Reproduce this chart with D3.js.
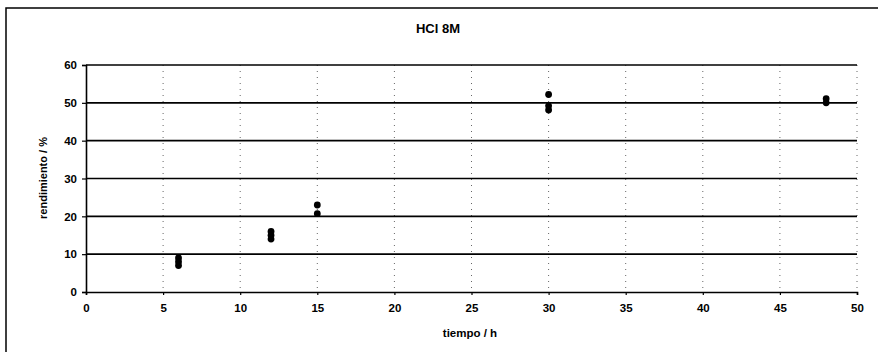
<!DOCTYPE html>
<html><head><meta charset="utf-8">
<script src="https://cdn.jsdelivr.net/npm/d3@7"></script>
<style>body{margin:0;background:#fff}svg{display:block}text{font-family:"Liberation Sans",Arial,sans-serif;font-weight:bold}</style>
</head><body>
<script>
const title = "HCl 8M";
const xLabel = "tiempo / h";
const yLabel = "rendimiento / %";
const timeH = [6, 6, 6, 12, 12, 12, 15, 15, 30, 30, 30, 48, 48];
const yieldPct = [9, 8, 7, 16, 15, 14, 23, 20.7, 52.2, 49.2, 48.1, 51.1, 50];
const xTicks = [0, 5, 10, 15, 20, 25, 30, 35, 40, 45, 50];
const yTicks = [0, 10, 20, 30, 40, 50, 60];

const W = 878, H = 352;
const svg = d3.select("body").append("svg").attr("width", W).attr("height", H);
const x = d3.scaleLinear().domain([0, 50]).range([86, 857]);
const y = d3.scaleLinear().domain([0, 60]).range([292, 65]);

// outer frame
svg.append("path").attr("d", `M6,${H} L6,8 L${W},8`).attr("fill", "none").attr("stroke", "#000").attr("stroke-width", 1.5);

// vertical dotted gridlines
svg.append("g").selectAll("line").data(xTicks.filter(d => d > 0)).join("line")
  .attr("x1", d => x(d)).attr("x2", d => x(d)).attr("y1", y(60)).attr("y2", y(0))
  .attr("stroke", "#666").attr("stroke-width", 1).attr("stroke-dasharray", "1,5");

// horizontal gridlines
svg.append("g").selectAll("line").data(yTicks.filter(d => d > 0)).join("line")
  .attr("x1", x(0)).attr("x2", x(50)).attr("y1", d => y(d)).attr("y2", d => y(d))
  .attr("stroke", "#000").attr("stroke-width", 1.6);

// axes
const yAxis = d3.axisLeft(y).tickValues(yTicks).tickSize(4).tickPadding(5);
const gy = svg.append("g").attr("transform", `translate(${x(0)},0)`).call(yAxis);
const xAxis = d3.axisBottom(x).tickValues(xTicks).tickSize(3).tickPadding(9);
const gx = svg.append("g").attr("transform", `translate(0,${y(0)})`).call(xAxis);
[gx, gy].forEach(g => {
  g.select(".domain").attr("stroke", "#000").attr("stroke-width", 1.6);
  g.selectAll(".tick line").attr("stroke", "#000").attr("stroke-width", 1.2);
  g.selectAll("text").attr("font-size", 11.5).attr("font-weight", "bold")
    .attr("font-family", "Liberation Sans, Arial, sans-serif").attr("fill", "#000");
});

// points
svg.append("g").selectAll("circle").data(timeH.map((t, i) => [t, yieldPct[i]])).join("circle")
  .attr("cx", d => x(d[0])).attr("cy", d => y(d[1])).attr("r", 3.4).attr("fill", "#000");

// titles
svg.append("text").attr("x", 438).attr("y", 33).attr("text-anchor", "middle")
  .attr("font-size", 13).text(title);
svg.append("text").attr("x", 470).attr("y", 337).attr("text-anchor", "middle")
  .attr("font-size", 11.5).text(xLabel);
svg.append("text").attr("transform", `translate(47,178) rotate(-90)`).attr("text-anchor", "middle")
  .attr("font-size", 11).text(yLabel);
</script>
</body></html>
